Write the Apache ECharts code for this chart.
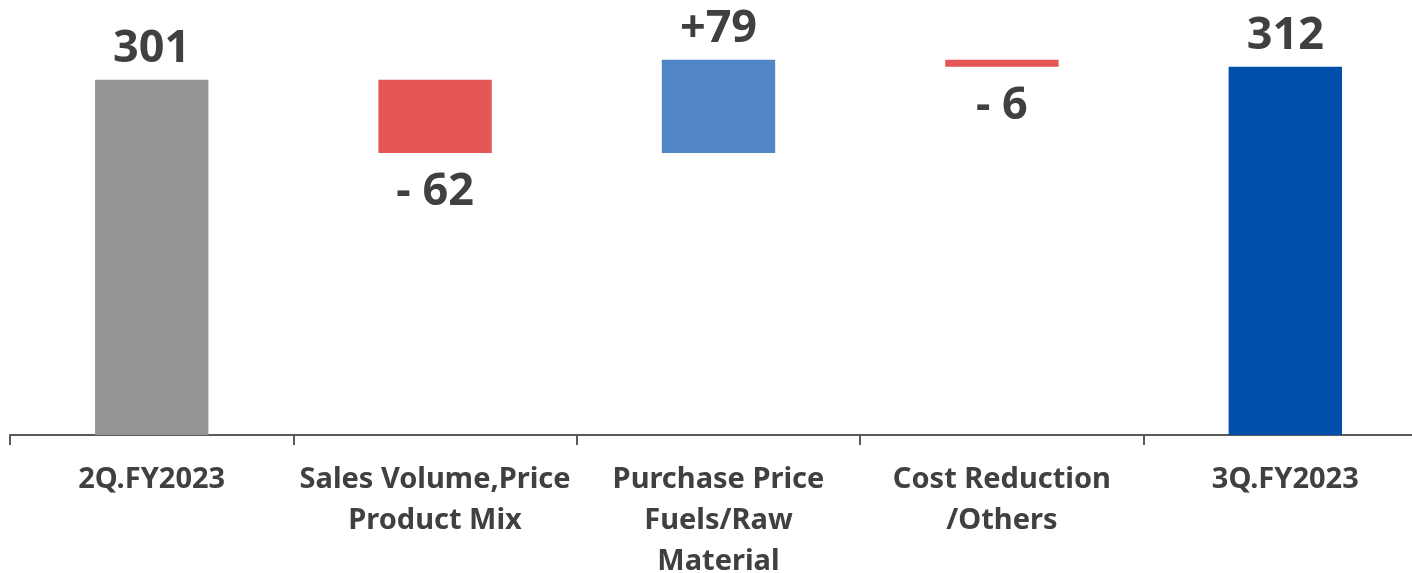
<!DOCTYPE html>
<html>
<head>
<meta charset="utf-8">
<script src="https://cdn.jsdelivr.net/npm/echarts@6/dist/echarts.min.js"></script>
<style>
  html, body { margin: 0; padding: 0; background: #fff; }
  #chart { width: 1412px; height: 573px; }
</style>
</head>
<body>
<div id="chart"></div>
<script>
  // 瀑布图数据
  const categories = ['2Q.FY2023', 'Sales Volume,Price\nProduct Mix', 'Purchase Price\nFuels/Raw\nMaterial', 'Cost Reduction\n/Others', '3Q.FY2023'];
  const changes = [301, -62, 79, -6, 312];
  const isTotal = [true, false, false, false, true];
  const valueLabels = ['301', '- 62', '+79', '- 6', '312'];
  const barColors = ['#959595', '#E55657', '#5085C6', '#E55657', '#004FAA'];

  // 透明底座 + 可见部分
  const base = [];
  const visible = [];
  let running = 0;
  changes.forEach((v, i) => {
    if (isTotal[i]) {
      base.push(0);
      visible.push(v);
      running = v;
    } else {
      base.push(v < 0 ? running + v : running);
      visible.push(Math.abs(v));
      running += v;
    }
  });

  const chart = echarts.init(document.getElementById('chart'));
  const fontFamily = '"Noto Sans", "Open Sans", sans-serif';

  chart.setOption({
    animation: false,
    grid: {
      left: 10,
      top: 22,
      width: 1417,
      height: 413,
      outerBoundsMode: 'none',
      containLabel: false
    },
    xAxis: {
      type: 'category',
      data: categories,
      axisLine: {
        show: true,
        lineStyle: { color: '#595959', width: 2 }
      },
      axisTick: {
        show: true,
        length: 10,
        lineStyle: { color: '#595959', width: 2 }
      },
      axisLabel: {
        interval: 0,
        margin: 24,
        color: '#404040',
        fontFamily: fontFamily,
        fontWeight: 'bold',
        fontSize: 29,
        lineHeight: 41
      }
    },
    yAxis: {
      type: 'value',
      min: 0,
      max: 350,
      show: false,
      splitLine: { show: false }
    },
    series: [
      {
        type: 'bar',
        stack: 'wf',
        data: base,
        itemStyle: { color: 'transparent' },
        silent: true
      },
      {
        type: 'bar',
        stack: 'wf',
        barWidth: '40%',
        data: visible.map((v, i) => ({
          value: v,
          itemStyle: { color: barColors[i] },
          label: {
            position: changes[i] < 0 ? 'bottom' : 'top',
            distance: changes[i] < 0 ? 17 : 8
          }
        })),
        label: {
          show: true,
          formatter: p => valueLabels[p.dataIndex],
          color: '#404040',
          fontFamily: fontFamily,
          fontWeight: 'bold',
          fontSize: 45
        }
      }
    ]
  });
</script>
</body>
</html>
